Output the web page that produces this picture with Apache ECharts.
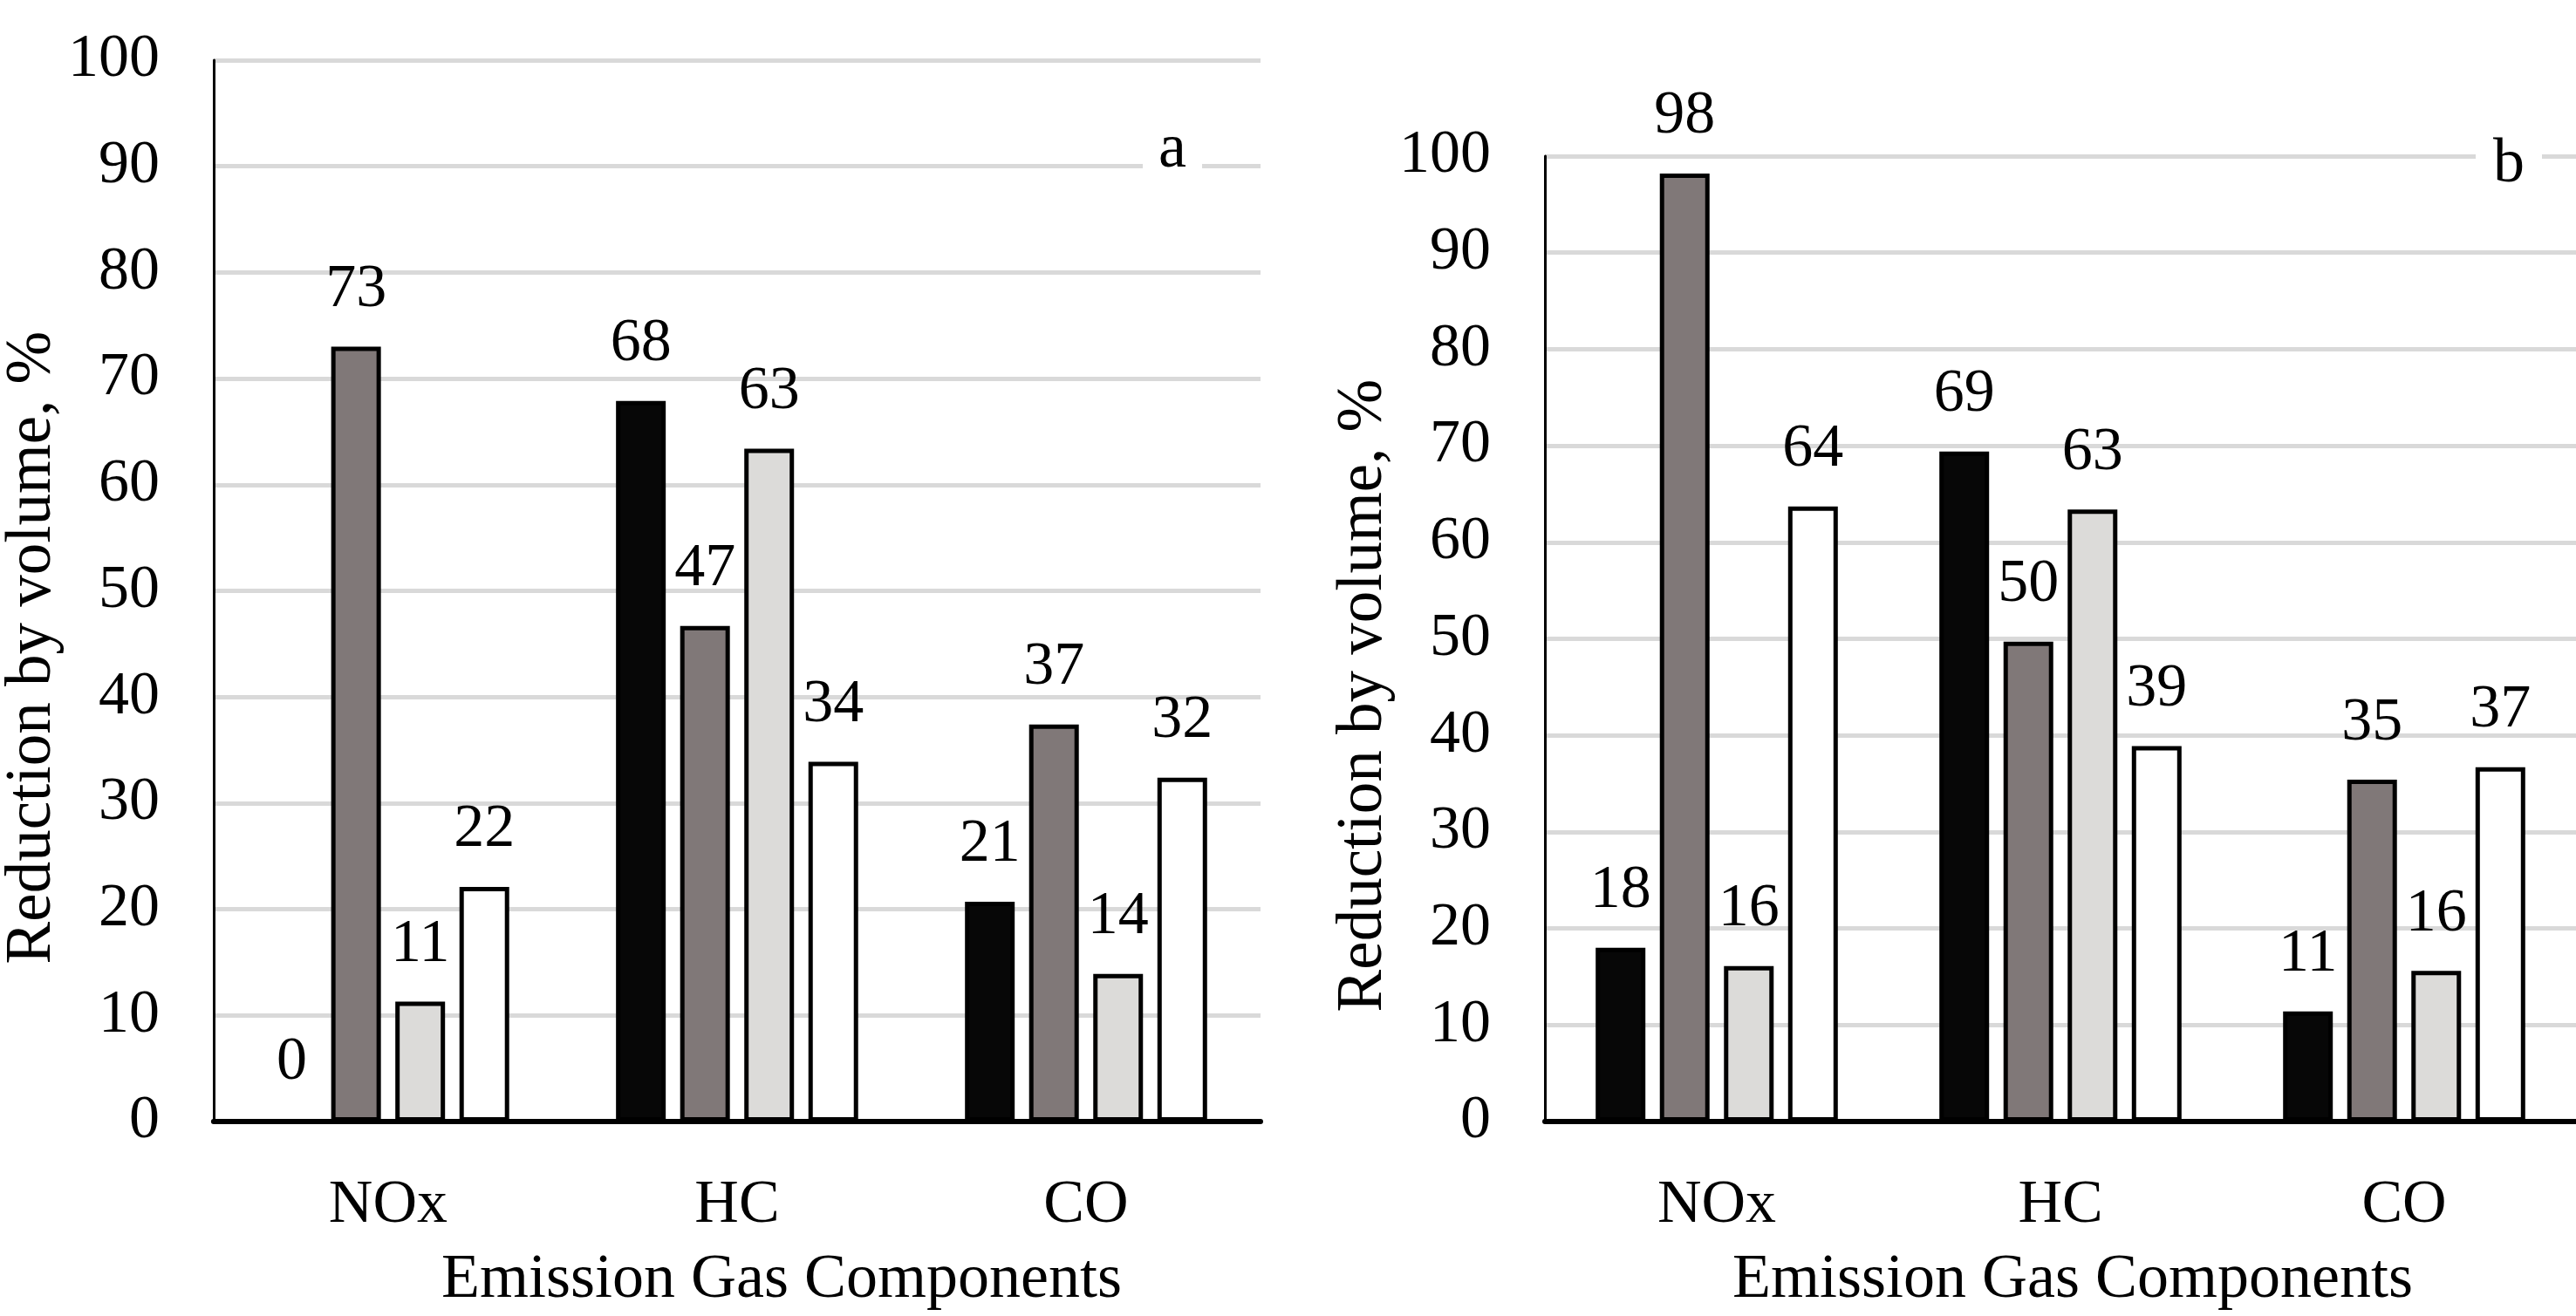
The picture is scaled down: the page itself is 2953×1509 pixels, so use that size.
<!DOCTYPE html>
<html>
<head>
<meta charset="utf-8">
<script src="https://cdn.jsdelivr.net/npm/echarts@6/dist/echarts.min.js"></script>
<style>
  html, body { margin: 0; padding: 0; background: #fff; }
  #chart { width: 2953px; height: 1509px; }
</style>
</head>
<body>
<div id="chart"></div>
<script>
// categories and values
const categories = ["NOx", "HC", "CO"];
// panel a
const aBlack = [0, 67.9, 20.7];
const aDark = [73, 46.7, 37.4];
const aLight = [11.3, 63.4, 13.9];
const aWhite = [22.1, 33.9, 32.4];
// panel b
const bBlack = [18, 69.4, 11.4];
const bDark = [98.2, 49.7, 35.4];
const bLight = [16.1, 63.4, 15.6];
const bWhite = [63.7, 38.9, 36.7];

const yTicks = { min: 0, max: 100, interval: 10 };
const FONT = "Liberation Serif";
const fills = ["#070707", "#807878", "#dcdbd9", "#ffffff"];

const makeSeries = (data, idx, fill) => ({
  type: "bar",
  xAxisIndex: idx,
  yAxisIndex: idx,
  data: data,
  barWidth: 57,
  barGap: "29%",
  itemStyle: { color: fill, borderColor: "#000", borderWidth: 5 },
  label: {
    show: true,
    position: "top",
    distance: 30,
    fontFamily: FONT,
    fontSize: 70,
    color: "#000",
    formatter: (p) => Math.round(p.value),
  },
});

const xAxisBase = (idx, pad) => ({
  type: "category",
  gridIndex: idx,
  data: categories,
  axisTick: { show: false },
  axisLine: { lineStyle: { color: "#000", width: 6 } },
  axisLabel: { fontFamily: FONT, fontSize: 70, color: "#000", margin: 62 },
  name: "Emission Gas Components",
  nameLocation: "middle",
  nameGap: 146,
  nameTextStyle: { fontFamily: FONT, fontSize: 72, color: "#000", padding: pad },
});

const yAxisBase = (idx, gap) => ({
  type: "value",
  gridIndex: idx,
  min: yTicks.min,
  max: yTicks.max,
  interval: yTicks.interval,
  axisLine: { show: true, lineStyle: { color: "#000", width: 3 } },
  axisTick: { show: false },
  splitLine: { lineStyle: { color: "#d9d9d9", width: 5 } },
  axisLabel: { fontFamily: FONT, fontSize: 70, color: "#000", margin: 62 },
  name: "Reduction by volume, %",
  nameLocation: "middle",
  nameRotate: 90,
  nameGap: gap,
  nameTextStyle: { fontFamily: FONT, fontSize: 73, color: "#000", padding: [0, 130, 0, 0] },
});

const chart = echarts.init(document.getElementById("chart"));
chart.setOption({
  animation: false,
  backgroundColor: "#fff",
  grid: [
    { left: 243, top: 69, width: 1202, height: 1232 },
    { left: 1771, top: 179, width: 1200, height: 1133 },
  ],
  xAxis: [xAxisBase(0, [0, 0, 0, 102]), xAxisBase(1, [0, 0, 0, 28])],
  yAxis: [yAxisBase(0, 145), yAxisBase(1, 163)],
  series: [
    makeSeries(aBlack, 0, fills[0]),
    makeSeries(aDark, 0, fills[1]),
    makeSeries(aLight, 0, fills[2]),
    makeSeries(aWhite, 0, fills[3]),
    makeSeries(bBlack, 1, fills[0]),
    makeSeries(bDark, 1, fills[1]),
    makeSeries(bLight, 1, fills[2]),
    makeSeries(bWhite, 1, fills[3]),
  ],
  graphic: [
    {
      type: "text", x: 1344, y: 172, z: 100,
      style: { text: "a", font: "72px " + FONT, fill: "#000", align: "center", verticalAlign: "middle",
        backgroundColor: "#fff", padding: [4, 18, 4, 18] },
    },
    {
      type: "text", x: 2876, y: 189, z: 100,
      style: { text: "b", font: "72px " + FONT, fill: "#000", align: "center", verticalAlign: "middle",
        backgroundColor: "#fff", padding: [4, 20, 4, 20] },
    },
  ],
});
</script>
</body>
</html>
